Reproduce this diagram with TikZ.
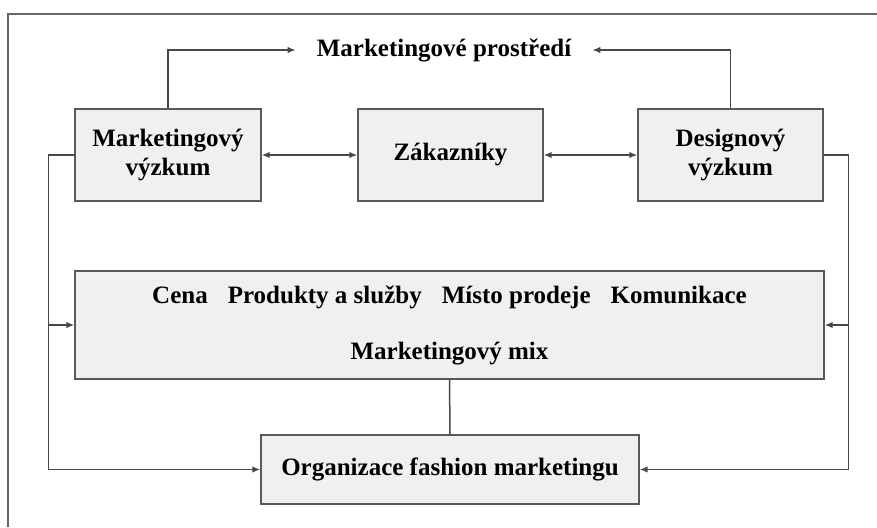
\documentclass[tikz,border=0pt]{standalone}
\usepackage{fontspec}
\setmainfont{Liberation Serif}
\usetikzlibrary{arrows.meta}

\begin{document}
\begin{tikzpicture}
	[x=1pt,y=-1pt,
	 box/.style={draw=black!65,fill=black!6,line width=1.4pt,align=center,inner sep=0pt,
	             font=\bfseries\fontsize{25}{29}\selectfont},
	 link/.style={->,>={Latex[length=8pt,width=6.5pt]},draw=black!72,line width=1.5pt},
	 both/.style={link,<->}]
	\useasboundingbox (0,0) rectangle (877,527);
	% outer frame
	\draw[black!60,line width=1.3pt] (8,527) |- (877,14);
	%
	% top row
	%
	\node[box,minimum width=186pt,minimum height=92pt] (mv) at (168,155) {Marketingový\\výzkum};
	\node[box,minimum width=185pt,minimum height=92pt] (zk) at (450.5,155) {Zákazníky};
	\node[box,minimum width=185pt,minimum height=92pt] (dv) at (730.5,155) {Designový\\výzkum};
	\node[font=\bfseries\fontsize{25}{29}\selectfont,inner ysep=0pt,inner xsep=21pt] (env) at (444,50) {Marketingové prostředí};

	% mix and organisation
	\node[box,minimum width=749pt,minimum height=108pt] (mix) at (449.5,325)
		{Cena\hspace{20pt}Produkty a služby\hspace{20pt}Místo prodeje\hspace{20pt}Komunikace\\[27pt]Marketingový mix};
	\node[box,minimum width=378pt,minimum height=69pt] (org) at (450,469.5) {Organizace fashion marketingu};

	% connectors
	\draw[link] (mv.north) |- (env.west);
	\draw[link] (dv.north) |- (env.east);
	\draw[both] (mv) -- (zk);
	\draw[both] (zk) -- (dv);
	\draw[link,-] (mix.south) -- (org.north);

	% feedback loops
	\coordinate (lbend) at ([xshift=-26pt]mv.west);
	\coordinate (rbend) at ([xshift=25pt]dv.east);
	\draw[link,-] (mv.west) -- (lbend);
	\draw[link] (lbend) |- (mix.west);
	\draw[link] (lbend) |- (org.west);
	\draw[link,-] (dv.east) -- (rbend);
	\draw[link] (rbend) |- (mix.east);
	\draw[link] (rbend) |- (org.east);
\end{tikzpicture}
\end{document}
